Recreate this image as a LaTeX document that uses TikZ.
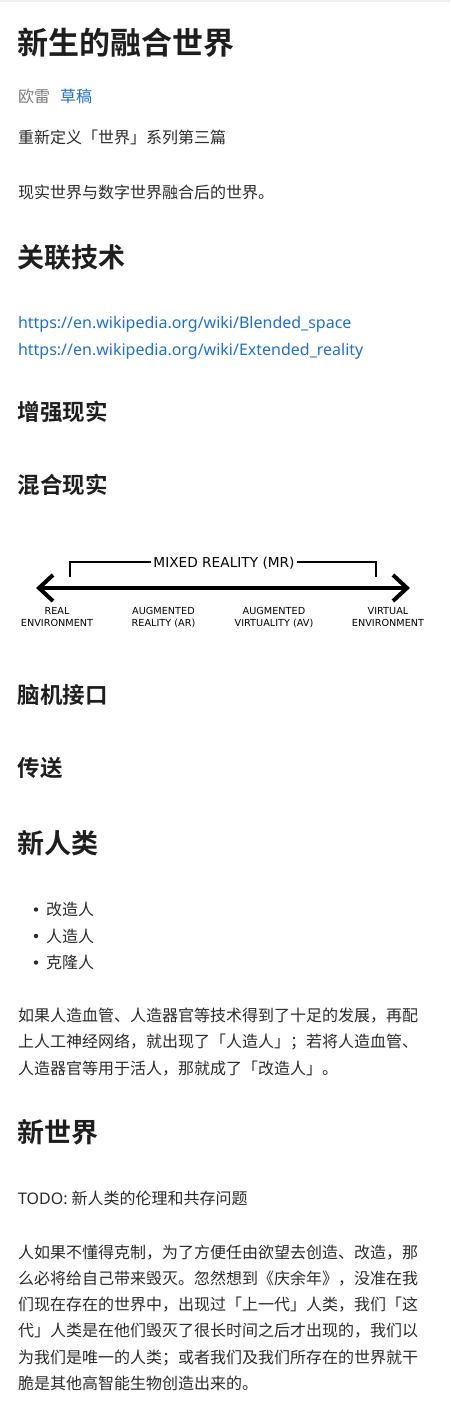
\documentclass[tikz,border=0pt]{standalone}
\usepackage{fontspec}
\setmainfont{Noto Sans CJK SC}[BoldFont={Noto Sans CJK SC Bold}]
\newfontfamily\latinfont{Noto Sans}
\newfontfamily\dejavu{DejaVu Sans}
\definecolor{headcol}{HTML}{1E1E1E}
\definecolor{bodycol}{HTML}{2A2A2A}
\definecolor{linkcol}{HTML}{1F6FCF}
\definecolor{graycol}{HTML}{7A7A7A}
\definecolor{topband}{HTML}{EEEEEE}
\begin{document}
\begin{tikzpicture}[x=1pt,y=-1pt,
  base/.style={anchor=base west, inner sep=0pt, outer sep=0pt},
  hone/.style={base, text=headcol, font=\fontsize{31}{31}\bfseries\selectfont},
  htwo/.style={base, text=headcol, font=\fontsize{27}{27}\bfseries\selectfont},
  hthree/.style={base, text=headcol, font=\fontsize{22.5}{22.5}\bfseries\selectfont},
  body/.style={base, text=bodycol, font=\fontsize{16}{16}\selectfont},
  meta/.style={base, font=\fontsize{16}{16}\selectfont},
  linktxt/.style={base, text=linkcol, font=\latinfont\fontsize{16}{16}\selectfont},
  bulletdot/.style={circle, fill=bodycol, inner sep=0pt, minimum size=4.4pt},
  mrline/.style={line width=2pt, draw=black},
  mrarrow/.style={line width=4pt, draw=black, line join=miter},
  mrtitle/.style={anchor=base, inner sep=2pt, fill=white, font=\dejavu\fontsize{13.7}{13.7}\selectfont},
  mrlabel/.style={anchor=base, inner sep=0pt, font=\dejavu\fontsize{9.7}{9.7}\selectfont}
]
\useasboundingbox (0,0) rectangle (450,1423);
\fill[topband] (0,0) rectangle (450,2);

% header
\node[hone] (title) at (17.5,54.5) {新生的融合世界};
\node[meta, text=graycol] (author) at (18,103) {欧雷};
\node[meta, text=linkcol] (draft) at (60,103) {草稿};
\node[body] (series) at (18,144) {重新定义「世界」系列第三篇};
\node[body] (intro) at (18,199) {现实世界与数字世界融合后的世界。};

% related tech
\node[htwo] (related) at (17.5,267) {关联技术};
\node[linktxt] (urlone) at (18,328) {https://en.wikipedia.org/wiki/Blended\_space};
\node[linktxt] (urltwo) at (18,355) {https://en.wikipedia.org/wiki/Extended\_reality};
\node[hthree] (ar) at (17.5,420) {增强现实};
\node[hthree] (mr) at (17.5,493) {混合现实};

% mixed reality diagram
\coordinate (arrL) at (39,588);
\coordinate (arrR) at (407,588);
\coordinate (wingLt) at (53,575);
\coordinate (wingLb) at (53,601);
\coordinate (wingRt) at (393,575);
\coordinate (wingRb) at (393,601);
\draw[mrarrow] (arrL) -- (arrR);
\draw[mrarrow] (wingLt) -- (arrL) -- (wingLb);
\draw[mrarrow] (wingRt) -- (arrR) -- (wingRb);
\coordinate (brLb) at (70,577);
\coordinate (brLt) at (70,562);
\coordinate (brRt) at (376,562);
\coordinate (brRb) at (376,577);
\draw[mrline] (brLb) -- (brLt) -- (brRt) -- (brRb);
\node[mrtitle] (mrtext) at (224,567) {MIXED REALITY (MR)};
\node[mrlabel] (realA) at (57,614.5) {REAL};
\node[mrlabel] (realB) at (57,626.5) {ENVIRONMENT};
\node[mrlabel] (augA) at (163.5,614.5) {AUGMENTED};
\node[mrlabel] (augB) at (163.5,626.5) {REALITY (AR)};
\node[mrlabel] (avA) at (274,614.5) {AUGMENTED};
\node[mrlabel] (avB) at (274,626.5) {VIRTUALITY (AV)};
\node[mrlabel] (virA) at (388,614.5) {VIRTUAL};
\node[mrlabel] (virB) at (388,626.5) {ENVIRONMENT};

\node[hthree] (bci) at (17.5,703) {脑机接口};
\node[hthree] (tele) at (17.5,776) {传送};

% new humans
\node[htwo] (newhuman) at (17.5,853) {新人类};
\node[bulletdot] (dotA) at (36,909.5) {};
\node[bulletdot] (dotB) at (36,936) {};
\node[bulletdot] (dotC) at (36,962.5) {};
\node[body] (itemA) at (46,915) {改造人};
\node[body] (itemB) at (46,942) {人造人};
\node[body] (itemC) at (46,968.5) {克隆人};
\node[body] (pA) at (18,1021) {如果人造血管、人造器官等技术得到了十足的发展，再配};
\node[body] (pB) at (18,1047.5) {上人工神经网络，就出现了「人造人」；若将人造血管、};
\node[body] (pC) at (18,1074) {人造器官等用于活人，那就成了「改造人」。};

% new world
\node[htwo] (newworld) at (17.5,1142) {新世界};
\node[body] (todo) at (18,1204) {{\latinfont TODO: }新人类的伦理和共存问题};
\node[body] (qA) at (18,1258) {人如果不懂得克制，为了方便任由欲望去创造、改造，那};
\node[body] (qB) at (18,1284.5) {么必将给自己带来毁灭。忽然想到《庆余年》，没准在我};
\node[body] (qC) at (18,1310.5) {们现在存在的世界中，出现过「上一代」人类，我们「这};
\node[body] (qD) at (18,1336.5) {代」人类是在他们毁灭了很长时间之后才出现的，我们以};
\node[body] (qE) at (18,1363) {为我们是唯一的人类；或者我们及我们所存在的世界就干};
\node[body] (qF) at (18,1389) {脆是其他高智能生物创造出来的。};
\end{tikzpicture}
\end{document}
